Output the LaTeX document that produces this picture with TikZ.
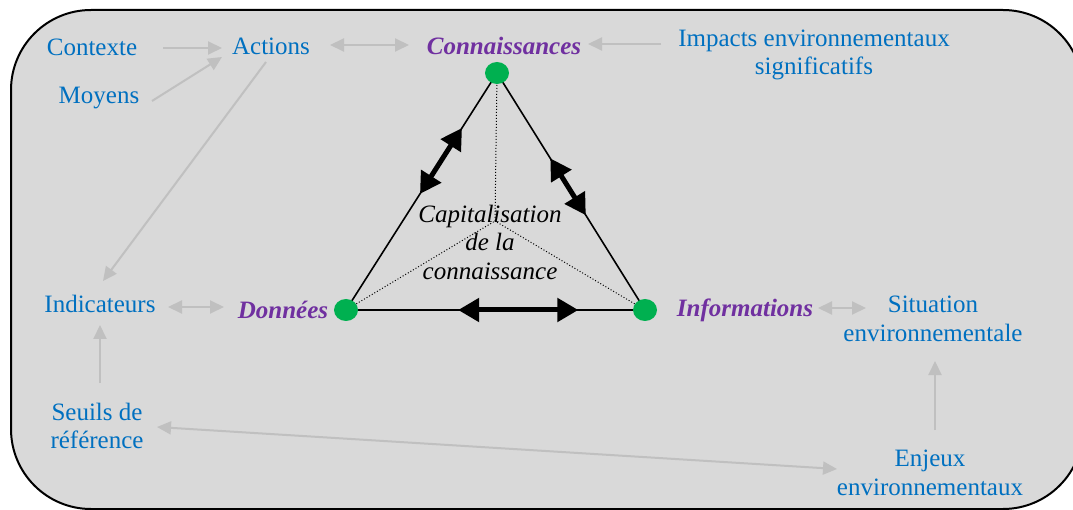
\documentclass[tikz,border=0pt]{standalone}
\usepackage{fontspec}
\setmainfont{Liberation Serif}
\usetikzlibrary{arrows.meta,calc,shapes.geometric}
\definecolor{txtblue}{RGB}{0,112,192}
\definecolor{kpurple}{RGB}{112,48,160}
\definecolor{kgreen}{RGB}{0,176,80}
\definecolor{boxgray}{RGB}{217,217,217}
\definecolor{arrgray}{RGB}{192,192,192}
\begin{document}
\begin{tikzpicture}[x=1pt,y=-1pt,
  lbl/.style={text=txtblue,inner sep=1pt,align=center,font=\fontsize{25}{28.5}\selectfont},
  key/.style={text=kpurple,inner sep=1pt,font=\fontsize{25}{28}\selectfont\bfseries\itshape},
  dot/.style={ellipse,fill=kgreen,minimum width=24pt,minimum height=22pt,inner sep=0pt},
  garrow/.style={draw=arrgray,line width=2pt,-{Triangle[length=14pt,width=13pt]}},
  gdarrow/.style={draw=arrgray,line width=2pt,{Triangle[length=14pt,width=13pt]}-{Triangle[length=14pt,width=13pt]}},
  bigarrow/.style={draw=black,line width=5pt,{Triangle[length=21pt,width=23pt]}-{Triangle[length=21pt,width=23pt]}},
  edge/.style={draw=black,line width=1.6pt},
  dotline/.style={draw=black,line width=1pt,dotted}
]
\useasboundingbox (0,0) rectangle (1073,510);
\begin{scope}
\clip (0,0) rectangle (1073,510);
\draw[fill=boxgray,line width=2pt,rounded corners=80pt] (11,10) rectangle (1083,509);
\end{scope}

% text nodes
\node[lbl] (ctx) at (92,47) {Contexte};
\node[lbl] (moy) at (99,98) {Moyens};
\node[lbl] (act) at (271,46) {Actions};
\node[key] (con) at (504,46) {Connaissances};
\node[lbl] (imp) at (814,55) {Impacts environnementaux\\significatifs};
\node[lbl] (ind) at (100,304) {Indicateurs};
\node[key] (don) at (283,310) {Données};
\node[key] (inf) at (745,310) {Informations};
\node[lbl] (sit) at (933,319) {Situation\\environnementale};
\node[lbl] (seu) at (97,426) {Seuils de\\référence};
\node[lbl] (enj) at (930,473) {Enjeux\\environnementaux};
\node[font=\fontsize{25}{28.5}\selectfont\itshape,align=center,inner sep=0pt] (cap) at (490,242) {Capitalisation\\de la\\connaissance};

% triangle
\coordinate (T) at (497,73);
\coordinate (L) at (346,310);
\coordinate (R) at (645,310);
\coordinate (G) at (495,221);
\draw[dotline] (T) -- (G);
\draw[dotline] (L) -- (G);
\draw[dotline] (R) -- (G);
\draw[edge] (T) -- (L) -- (R) -- cycle;
\path (T) -- (L) coordinate[pos=0.232] (l1) coordinate[pos=0.51] (l2);
\path (T) -- (R) coordinate[pos=0.36] (r1) coordinate[pos=0.60] (r2);
\path (L) -- (R) coordinate[pos=0.375] (b1) coordinate[pos=0.777] (b2);
\draw[bigarrow] (l1) -- (l2);
\draw[bigarrow] (r1) -- (r2);
\draw[bigarrow] (b1) -- (b2);
\node[dot] (dT) at (T) {};
\node[dot] (dL) at (L) {};
\node[dot] (dR) at (R) {};

% gray connectors
\draw[garrow] ($(ctx.center)+(71,1)$) -- ($(act.center)+(-49,2)$);
\draw[garrow] ($(moy.center)+(53,3)$) -- ($(act.center)+(-49,11)$);
\draw[garrow] ($(act.center)+(-5,16)$) -- ($(ind.center)+(3,-23)$);
\draw[gdarrow] ($(act.center)+(59,-1)$) -- ($(con.center)+(-95,-1)$);
\draw[garrow] ($(imp.center)+(-153,-11)$) -- ($(con.center)+(84,-2)$);
\draw[gdarrow] ($(ind.center)+(68,3)$) -- ($(don.center)+(-59,-3)$);
\draw[gdarrow] ($(inf.center)+(73,-2)$) -- ($(sit.center)+(-67,-11)$);
\draw[garrow] ($(seu.center)+(3,-43)$) -- ($(ind.center)+(0,21)$);
\draw[garrow] ($(enj.center)+(5,-43)$) -- ($(sit.center)+(2,42)$);
\draw[gdarrow] ($(seu.center)+(60,1)$) -- ($(enj.center)+(-93,-4)$);
\end{tikzpicture}
\end{document}
